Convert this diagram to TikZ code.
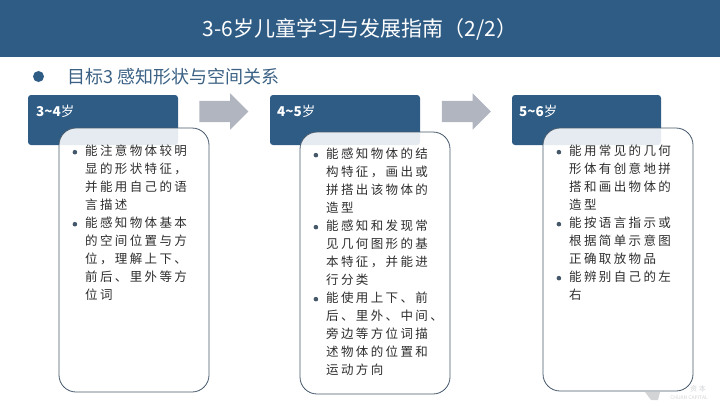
\documentclass[tikz,border=0pt]{standalone}
\usepackage{fontspec}
\setmainfont{Noto Sans CJK SC}
\newfontfamily\bodyfont[LetterSpace=19]{Noto Sans CJK SC}
\usetikzlibrary{shapes.arrows}
\definecolor{bandblue}{HTML}{2F5C85}
\definecolor{boxline}{HTML}{44586A}
\definecolor{arrowgray}{HTML}{B1B5C0}
\definecolor{bodygray}{HTML}{2E2E2E}
\definecolor{markgray}{HTML}{D2D4D6}
\tikzset{
  agebox/.style={fill=bandblue, rounded corners=3pt},
  agelabel/.style={anchor=west, text=white, font=\fontsize{13.5}{16}\selectfont, inner sep=0pt},
  textbox/.style={draw=boxline, line width=.8pt, fill=white, fill opacity=.88, rounded corners=17pt},
  bodytext/.style={anchor=north west, align=left, inner sep=0pt, text=bodygray, font=\bodyfont\fontsize{12.5}{18}\selectfont},
  blockarrow/.style={single arrow, fill=arrowgray, inner sep=0pt, text height=21pt, text depth=0pt, minimum height=49pt, minimum width=36pt, single arrow head extend=7.5pt, single arrow tip angle=90},
}
\newcommand{\itemdot}{\llap{\tikz[baseline=-3.6pt] \fill[boxline] (0,0) circle (2.3pt);\hspace{8pt}}}
\begin{document}
\begin{tikzpicture}[x=1pt, y=-1pt]
  \useasboundingbox (0,0) rectangle (720,405);

  % Draw the title band
  \fill[bandblue] (0,0) rectangle (720,57);
  \node[text=white, font=\fontsize{21}{25}\selectfont] (title) at (360,29) {3-6岁儿童学习与发展指南（2/2）};

  % Draw the goal line
  \fill[bandblue] (38.5,76.5) circle (5.5);
  \node[anchor=west, inner sep=0pt, text=bandblue!85!gray, font=\fontsize{18}{22}\selectfont] (goal) at (67,77) {目标3 感知形状与空间关系};

  % Draw the age boxes
  \fill[agebox] (28,95) rectangle (178,145);
  \fill[agebox] (270,95) rectangle (420,145);
  \fill[agebox] (512,95) rectangle (661,145);
  \node[agelabel] (agea) at (36,111) {\textbf{3\textasciitilde4}岁};
  \node[agelabel] (ageb) at (277,111) {\textbf{4\textasciitilde5}岁};
  \node[agelabel] (agec) at (519,111) {\textbf{5\textasciitilde6}岁};

  % Draw the arrows between the age boxes
  \node[blockarrow] (arrowa) at (218.5,111.5) {};
  \node[blockarrow] (arrowb) at (461,111.5) {};

  % Draw the text boxes over the age boxes
  \draw[textbox] (59,128) rectangle (209,392);
  \draw[textbox] (300,132) rectangle (450,394);
  \draw[textbox] (543,128) rectangle (693,391);

  % Fill in the lists
  \node[bodytext] (lista) at (85,145) {\itemdot 能注意物体较明\\显的形状特征，\\并能用自己的语\\言描述\\
    \itemdot 能感知物体基本\\的空间位置与方\\位，理解上下、\\前后、里外等方\\位词};
  \node[bodytext] (listb) at (326,148) {\itemdot 能感知物体的结\\构特征，画出或\\拼搭出该物体的\\造型\\
    \itemdot 能感知和发现常\\见几何图形的基\\本特征，并能进\\行分类\\
    \itemdot 能使用上下、前\\后、里外、中间、\\旁边等方位词描\\述物体的位置和\\运动方向};
  \node[bodytext] (listc) at (569,145) {\itemdot 能用常见的几何\\形体有创意地拼\\搭和画出物体的\\造型\\
    \itemdot 能按语言指示或\\根据简单示意图\\正确取放物品\\
    \itemdot 能辨别自己的左\\右};

  % Faint mark in the corner
  \fill[markgray] (645,392) -- (660,392) -- (658,400) -- (651,400) -- cycle;
  \node[text=markgray, inner sep=0pt, font=\fontsize{7}{8}\selectfont] (markcn) at (698,389) {资 本};
  \node[text=markgray, inner sep=0pt, font=\fontsize{5}{6}\selectfont] (markla) at (689,398) {CHUAN CAPITAL};
\end{tikzpicture}
\end{document}
